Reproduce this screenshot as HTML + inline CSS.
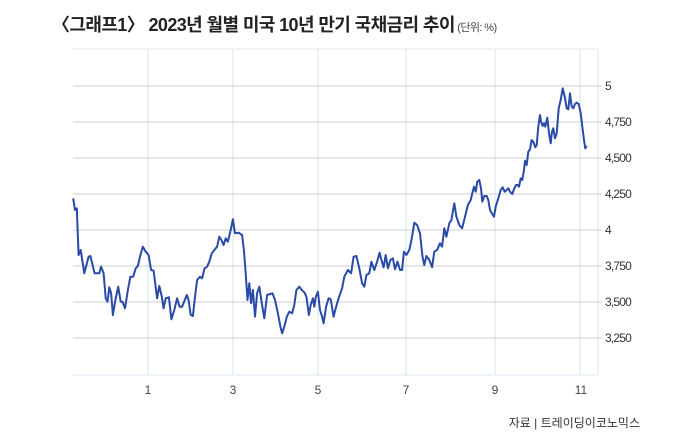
<!DOCTYPE html><html><head><meta charset="utf-8"><style>
body{margin:0;background:#fff;width:700px;height:437px;overflow:hidden;font-family:"Liberation Sans","Noto Sans CJK KR",sans-serif}
</style></head><body>
<svg width="700" height="437" xmlns="http://www.w3.org/2000/svg" font-family="Liberation Sans, Noto Sans CJK KR, sans-serif">
<text x="52" y="31" font-size="18" font-weight="bold" fill="#222" letter-spacing="-0.6">〈그래프1〉 2023년 월별 미국 10년 만기 국채금리 추이<tspan font-size="11" font-weight="normal" fill="#444"> (단위: %)</tspan></text>
<g stroke="#d6e4ef" stroke-width="1">
<line x1="148" y1="49" x2="148" y2="375"/><line x1="233" y1="49" x2="233" y2="375"/><line x1="318" y1="49" x2="318" y2="375"/><line x1="406" y1="49" x2="406" y2="375"/><line x1="495" y1="49" x2="495" y2="375"/><line x1="580" y1="49" x2="580" y2="375"/><line x1="598" y1="49" x2="598" y2="375"/>
</g>
<g stroke="#cfcfcf" stroke-width="1">
<line x1="73" y1="49" x2="598" y2="49" stroke="#e6e6e6"/>
<line x1="73" y1="86" x2="602" y2="86"/><line x1="73" y1="122" x2="602" y2="122"/><line x1="73" y1="158" x2="602" y2="158"/><line x1="73" y1="194" x2="602" y2="194"/><line x1="73" y1="230" x2="602" y2="230"/><line x1="73" y1="266" x2="602" y2="266"/><line x1="73" y1="302" x2="602" y2="302"/><line x1="73" y1="338" x2="602" y2="338"/><line x1="73" y1="375" x2="598" y2="375" stroke="#dde6ee"/>
</g>
<g font-size="12" fill="#333" letter-spacing="-0.8">
<text x="605" y="90">5</text><text x="605" y="126">4,750</text><text x="605" y="162">4,500</text><text x="605" y="198">4,250</text><text x="605" y="234">4</text><text x="605" y="270">3,750</text><text x="605" y="306">3,500</text><text x="605" y="342">3,250</text>
</g>
<g font-size="12" fill="#444" text-anchor="middle">
<text x="148" y="394">1</text><text x="233" y="394">3</text><text x="318" y="394">5</text><text x="406" y="394">7</text><text x="495" y="394">9</text><text x="581" y="394">11</text>
</g>
<text x="640" y="427" font-size="12" fill="#333" text-anchor="end">자료 | 트레이딩이코노믹스</text>
<polyline id="ln" fill="none" stroke="#2a4aa8" stroke-width="2" stroke-linejoin="round"/>
</svg>
<script>
var a=[37,55,42,90,47,85,52,225,58,210,68,280,80,230,85,228,97,280,110,280,115,260,122,280,128,355,133,365,138,322,143,340,148,405,155,360,163,320,170,365,175,365,182,385,190,330,197,290,205,290,212,265,218,258,225,225,232,200,240,215,248,225,255,270,262,272,272,355,278,318,285,350,290,385,296,355,305,352,312,418,320,390,328,355,335,380,342,380,355,345,360,360,366,405,372,408,378,350,384,300,392,290,398,295,405,265,412,260,418,245,425,220,432,210,440,200,446,170,452,180,458,195,464,175,470,185,478,150,484,118,490,160,500,158,510,165,515,210,520,280,525,360,530,310,535,370,540,330,546,410,552,340,558,320,565,370,572,415,580,345,595,340,602,360,610,400,617,440,622,460,628,440,635,410,642,395,650,400,656,375,662,330,670,320,677,330,685,338,690,350,697,405,702,375,708,355,712,380,716,352,722,335,728,390,734,410,738,430,745,380,752,355,758,358,766,410,772,385,780,355,790,325,796,290,806,270,815,280,822,230,830,228,838,265,846,310,852,320,858,285,866,280,872,245,880,270,888,245,895,218,900,240,906,262,912,225,918,265,925,240,932,235,938,268,945,245,952,270,958,270,963,215,970,225,978,210,985,175,992,128,1000,135,1008,160,1015,230,1020,255,1026,228,1034,240,1042,262,1048,215,1056,210,1064,190,1070,200,1076,145,1082,170,1090,130,1096,120,1104,70,1110,110,1118,135,1126,145,1134,110,1142,75,1150,60];
var p=[];for(var i=0;i<a.length;i+=2)p.push((60+a[i]/2.8).toFixed(1)+","+(180+a[i+1]/3).toFixed(1));
var b=[8,365,12,350,17,365,22,335,28,330,33,355,37,395,43,378,50,378,55,390,60,420,67,432,72,440,77,410,85,385,92,360,98,352,104,365,110,360,115,355,120,365,127,372,133,355,138,345,143,345,147,350,152,325,157,330,162,300,165,272,170,285,175,245,180,238,185,210,190,215,196,232,200,225,205,170,210,135,213,155,218,168,222,160,226,170,232,143,237,190,242,220,246,185,250,175,255,205,260,190,266,115,272,90,278,55,284,80,290,115,295,118,300,70,305,110,310,115,315,102,320,98,326,102,332,130,338,180,342,210,346,235,350,228];
for(i=0;i<b.length;i+=2)p.push((470+b[i]/3).toFixed(1)+","+(70+b[i+1]/3).toFixed(1));
document.getElementById("ln").setAttribute("points",p.join(" "));
</script>
</body></html>
